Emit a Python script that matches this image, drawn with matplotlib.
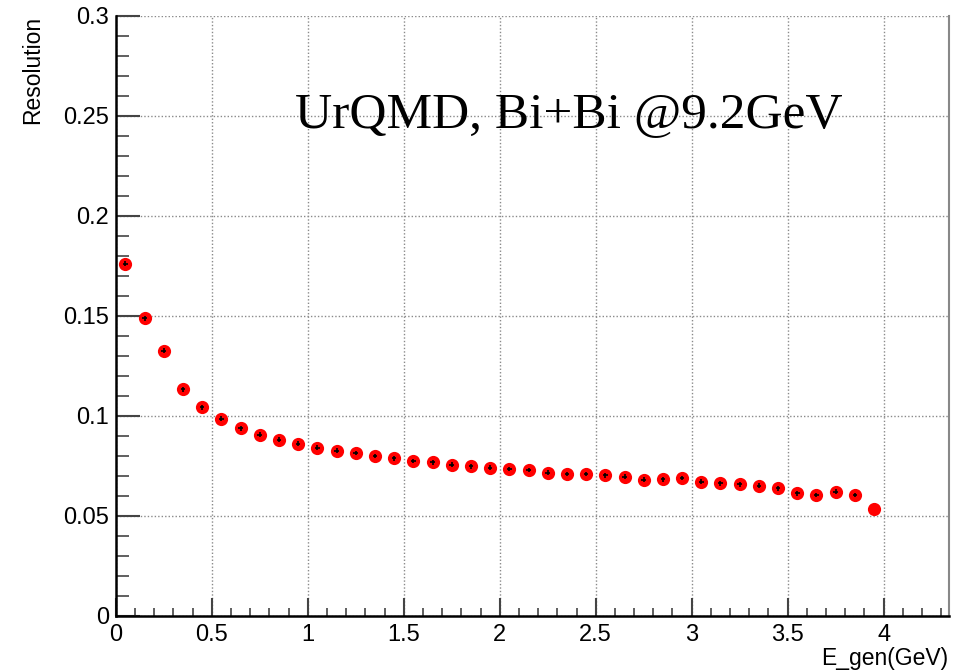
import numpy as np
import matplotlib
matplotlib.use('Agg')
import matplotlib.pyplot as plt
from matplotlib.ticker import MultipleLocator, FuncFormatter

# bin centres (GeV) and resolution values
e_gen = [0.05, 0.15, 0.25, 0.35, 0.45, 0.55, 0.65, 0.75, 0.85, 0.95,
         1.05, 1.15, 1.25, 1.35, 1.45, 1.55, 1.65, 1.75, 1.85, 1.95,
         2.05, 2.15, 2.25, 2.35, 2.45, 2.55, 2.65, 2.75, 2.85, 2.95,
         3.05, 3.15, 3.25, 3.35, 3.45, 3.55, 3.65, 3.75, 3.85, 3.95]
resolution = [0.1760, 0.1488, 0.1325, 0.1133, 0.1042, 0.0985, 0.0938, 0.0905, 0.0880, 0.0860,
              0.0840, 0.0827, 0.0815, 0.0800, 0.0788, 0.0775, 0.0768, 0.0757, 0.0748, 0.0742,
              0.0735, 0.0730, 0.0717, 0.0710, 0.0710, 0.0703, 0.0697, 0.0682, 0.0683, 0.0690,
              0.0672, 0.0663, 0.0658, 0.0652, 0.0638, 0.0613, 0.0605, 0.0622, 0.0605, 0.0533]
res_err = [0.0012] * 39 + [0.0]
e_err = [0.012] * 39 + [0.0]

plt.rcParams['font.family'] = ['Liberation Sans', 'DejaVu Sans']

fig = plt.figure(figsize=(9.71, 6.71), dpi=100)
ax = fig.add_axes([0.1192, 0.0820, 0.9773 - 0.1192, 0.9766 - 0.0820])

ax.plot(e_gen, resolution, 'o', color='#ff0000', markersize=9.5,
        markeredgewidth=0, zorder=3)
ax.errorbar(e_gen, resolution, xerr=e_err, yerr=res_err, fmt='none',
            ecolor='black', elinewidth=1.2, capsize=0, zorder=4)

ax.set_xlim(0, 4.34)
ax.set_ylim(0, 0.3)

ax.xaxis.set_major_locator(MultipleLocator(0.5))
ax.xaxis.set_minor_locator(MultipleLocator(0.1))
ax.yaxis.set_major_locator(MultipleLocator(0.05))
ax.yaxis.set_minor_locator(MultipleLocator(0.01))
ax.xaxis.set_major_formatter(FuncFormatter(lambda v, p: f"{v:g}"))
ax.yaxis.set_major_formatter(FuncFormatter(lambda v, p: f"{v:g}"))

ax.grid(True, which='major', linestyle=(0, (1, 1.5)), color='#8a8a8a', linewidth=1.0)
ax.set_axisbelow(True)

ax.spines['top'].set_visible(False)
ax.spines['left'].set_linewidth(1.8)
ax.spines['bottom'].set_linewidth(1.8)
ax.spines['right'].set_color('#888888')
ax.spines['right'].set_linewidth(1.5)

ax.tick_params(which='both', direction='in', top=False, right=False,
               color='#444444', labelsize=17)
ax.tick_params(axis='x', which='major', length=13, width=1.5, pad=6)
ax.tick_params(axis='x', which='minor', length=6, width=1.2)
ax.tick_params(axis='y', which='major', length=17, width=1.5, pad=5)
ax.tick_params(axis='y', which='minor', length=9.5, width=1.2)

fig.text(33 / 971, 1 - 16 / 671, 'Resolution', rotation=90, ha='center', va='top',
         fontsize=16.5)
fig.text(948 / 971, 1 - 659 / 671, 'E_gen(GeV)', ha='right', va='center',
         fontsize=16.5)
fig.text(295 / 971, 1 - 127 / 671, 'UrQMD, Bi+Bi @9.2GeV', ha='left', va='baseline',
         fontsize=37, family='Liberation Serif')

fig.savefig('out.png', dpi=100)
